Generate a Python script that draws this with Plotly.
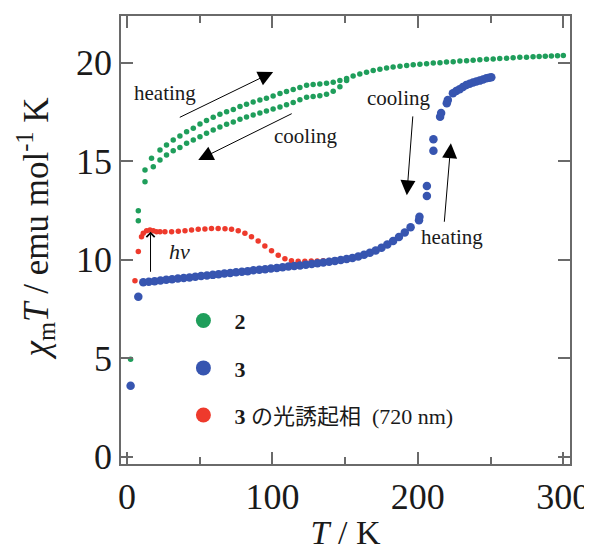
import plotly.graph_objects as go

# ---------------- data ----------------
# compound 2 (green), heating branch
T2_heat = [2.5, 7.8, 12.4, 16.9, 22.7, 27.2, 31.8, 36.4, 41.0, 45.6, 50.2, 54.7, 59.3, 63.9,
           68.5, 73.1, 77.7, 82.2, 86.8, 91.4, 95.9, 100.5, 105.2, 109.7, 114.3, 118.9,
           123.5, 128.0, 132.6, 137.2, 141.8, 146.4, 151.0, 155.5, 160.1, 164.7, 169.3,
           173.9, 178.5, 183.0, 187.7, 192.3, 196.8, 201.4, 206.0, 210.6, 215.2, 219.7,
           224.3, 228.9, 233.5, 238.0, 242.6, 247.2, 251.8, 256.3, 261.0, 265.5, 270.1,
           274.7, 279.2, 283.4, 287.6, 291.8, 296.0, 300.0]
chi2_heat = [4.95, 12.49, 14.55, 15.15, 15.57, 15.82, 16.08, 16.28, 16.50, 16.67, 16.89, 17.06,
             17.23, 17.38, 17.51, 17.63, 17.77, 17.89, 18.00, 18.10, 18.20, 18.31, 18.43,
             18.54, 18.64, 18.74, 18.85, 18.89, 18.92, 18.96, 19.01, 19.10, 19.20, 19.32,
             19.43, 19.52, 19.60, 19.67, 19.73, 19.78, 19.82, 19.86, 19.89, 19.92, 19.95,
             19.98, 20.00, 20.03, 20.05, 20.08, 20.10, 20.12, 20.15, 20.17, 20.19, 20.21,
             20.23, 20.25, 20.27, 20.28, 20.30, 20.32, 20.33, 20.34, 20.35, 20.36]

# compound 2 (green), cooling branch
T2_cool = [151.0, 146.4, 141.8, 137.2, 132.6, 128.0, 123.5, 118.9, 114.3, 109.7, 105.2, 100.5,
           95.9, 91.4, 86.8, 82.2, 77.7, 73.1, 68.5, 63.9, 59.3, 54.7, 50.2, 45.6, 41.0, 36.4,
           31.8, 27.2, 22.7, 18.1, 12.4, 7.8]
chi2_cool = [19.10, 18.78, 18.55, 18.40, 18.32, 18.28, 18.25, 18.12, 17.98, 17.86, 17.75, 17.65,
             17.55, 17.45, 17.35, 17.24, 17.13, 16.99, 16.87, 16.74, 16.58, 16.42, 16.24, 16.08,
             15.91, 15.70, 15.53, 15.31, 15.06, 14.72, 13.96, 11.98]

# compound 3 (blue)
T3 = [2.5, 7.8, 11.2, 15, 19, 23, 27, 31, 35, 39, 43, 47, 51, 55, 59, 63, 67, 71, 75, 79, 83,
      87, 91, 95, 99, 103, 107, 111, 115, 119, 123, 127, 131, 135, 139, 143, 147, 151, 155,
      159, 163, 167, 171, 175, 179, 183, 187, 191, 195, 200.8, 201.1, 206.2, 206.2, 210.7,
      210.7, 215.3, 216.0, 219.9, 220.6, 224.1, 226.4, 228.7, 231.0, 233.3, 235.6, 237.9,
      240.2, 242.5, 244.8, 247.1, 249.0, 250.5]
chi3 = [3.60, 8.12, 8.85, 8.88, 8.91, 8.94, 8.98, 9.01, 9.04, 9.07, 9.10, 9.14, 9.17, 9.20,
        9.23, 9.26, 9.30, 9.33, 9.36, 9.39, 9.42, 9.46, 9.49, 9.52, 9.55, 9.58, 9.62, 9.65,
        9.68, 9.71, 9.75, 9.78, 9.82, 9.86, 9.90, 9.94, 9.98, 10.03, 10.09, 10.16, 10.25,
        10.35, 10.47, 10.61, 10.77, 10.95, 11.15, 11.38, 11.65, 12.00, 12.18, 13.23, 13.74,
        15.53, 16.11, 17.26, 17.45, 17.94, 18.10, 18.45, 18.56, 18.65, 18.77, 18.87, 18.93,
        18.99, 19.04, 19.09, 19.15, 19.21, 19.24, 19.26]

# photo-induced phase of 3 (red)
T3_photo = [5.5, 7.8, 10.0, 11.2, 13.5, 15.8, 18.1, 20.3, 22.7, 26.1, 30.7, 35.3, 39.9, 44.4,
            49.0, 53.6, 58.1, 62.7, 67.4, 71.9, 76.5, 81.1, 85.6, 90.2, 94.8, 99.4, 104.0,
            108.6, 113.1, 117.7, 122.3, 126.7, 130.8, 134.9, 139.0, 143.2, 147.3, 151.2]
chi3_photo = [8.93, 10.41, 11.17, 11.34, 11.47, 11.51, 11.47, 11.42, 11.42, 11.42, 11.42, 11.44,
              11.47, 11.51, 11.54, 11.56, 11.59, 11.59, 11.57, 11.54, 11.47, 11.34, 11.17,
              10.95, 10.70, 10.46, 10.22, 10.05, 9.95, 9.92, 9.92, 9.93, 9.94, 9.95, 9.96,
              9.97, 9.98, 9.98]

x_ticks = [0, 100, 200, 300]
y_ticks = [0, 5, 10, 15, 20]

legend_names = ["<b>2</b>", "<b>3</b>", "<b>3</b> の光誘起相\u00a0\u00a0(720 nm)"]

# ---------------- style ----------------
GREEN = "#1f9e5b"
BLUE = "#3755b0"
RED = "#ee3a2c"
AXIS = "#6a6a6a"
TXT = "#1a1a1a"
FONT = "Liberation Serif, Noto Sans CJK JP, serif"

fig = go.Figure()
fig.add_trace(go.Scatter(x=T2_heat, y=chi2_heat, mode="markers", showlegend=False,
                         marker=dict(color=GREEN, size=5.5)))
fig.add_trace(go.Scatter(x=T2_cool, y=chi2_cool, mode="markers", showlegend=False,
                         marker=dict(color=GREEN, size=5.5)))
fig.add_trace(go.Scatter(x=T3_photo, y=chi3_photo, mode="markers", showlegend=False,
                         marker=dict(color=RED, size=5.5)))
fig.add_trace(go.Scatter(x=T3, y=chi3, mode="markers", showlegend=False,
                         marker=dict(color=BLUE, size=8.5)))

# legend proxies (one legend box per entry, positioned like the reference)
for name, col, lg in zip(legend_names, [GREEN, BLUE, RED], ["legend", "legend2", "legend3"]):
    fig.add_trace(go.Scatter(x=[None], y=[None], mode="markers", name="\u00a0\u00a0" + name,
                             marker=dict(color=col, size=15), legend=lg, showlegend=True))

leg_common = dict(xanchor="left", yanchor="middle", bgcolor="rgba(0,0,0,0)",
                  font=dict(family=FONT, size=22, color=TXT), borderwidth=0)
fig.update_layout(
    legend=dict(x=0.139, y=0.320, **leg_common),
    legend2=dict(x=0.139, y=0.214, **leg_common),
    legend3=dict(x=0.139, y=0.109, **leg_common),
)

arrow_style = dict(showarrow=True, arrowcolor="black", arrowwidth=1, arrowhead=2,
                   arrowsize=3, axref="x", ayref="y", xref="x", yref="y", text="")
annotations = [
    dict(x=100.5, y=19.53, ax=35.3, ay=17.19, **arrow_style),
    dict(x=49.0, y=15.06, ax=114.3, ay=17.45, **arrow_style),
    dict(x=192.4, y=13.27, ax=196.6, ay=17.35, **arrow_style),
    dict(x=222.7, y=15.91, ax=218.1, ay=11.85, **arrow_style),
    dict(x=16.2, y=11.42, ax=16.2, ay=9.31, showarrow=True, arrowcolor="black",
         arrowwidth=1, arrowhead=4, arrowsize=1.6, axref="x", ayref="y", text=""),
]
label_font = dict(family=FONT, size=21, color=TXT)
for txt, x, y in [("heating", 26.4, 18.45), ("cooling", 122.6, 16.29),
                  ("cooling", 186.7, 18.21), ("heating", 223.4, 11.17)]:
    annotations.append(dict(x=x, y=y, text=txt, showarrow=False, font=label_font,
                            xanchor="center", yanchor="middle"))
annotations.append(dict(x=36.2, y=10.41, text="<i>hν</i>", showarrow=False,
                        font=dict(family=FONT, size=22, color=TXT),
                        xanchor="center", yanchor="middle"))
# y-axis title (placed as rotated text to match the reference position)
annotations.append(dict(x=-0.19, y=0.525, xref="paper", yref="paper", textangle=-90,
                        text="<i>χ</i><sub>m</sub><i>T</i> / emu mol<sup>-1</sup> K",
                        showarrow=False, xanchor="center", yanchor="middle",
                        font=dict(family=FONT, size=35, color=TXT)))

axis_common = dict(showline=True, linecolor=AXIS, linewidth=1.5, mirror="ticks",
                   ticks="inside", ticklen=12, tickwidth=1.5, tickcolor=AXIS,
                   showgrid=False, zeroline=False, automargin=False,
                   tickfont=dict(family=FONT, size=36, color=TXT))

fig.update_layout(
    width=584, height=543,
    margin=dict(l=113, r=22, t=8, b=87),
    paper_bgcolor="white", plot_bgcolor="white",
    font=dict(family=FONT, color=TXT),
    annotations=annotations,
    xaxis=dict(range=[-4.1, 304.6], tickvals=x_ticks,
               minor=dict(ticks="inside", ticklen=7, tickwidth=1.5, tickcolor=AXIS, dtick=50),
               title=dict(text="<i>T</i> / K", font=dict(family=FONT, size=34, color=TXT),
                          standoff=10),
               **axis_common),
    yaxis=dict(range=[-0.37, 22.37], tickvals=y_ticks, **axis_common),
)

fig.write_html("out.html")
